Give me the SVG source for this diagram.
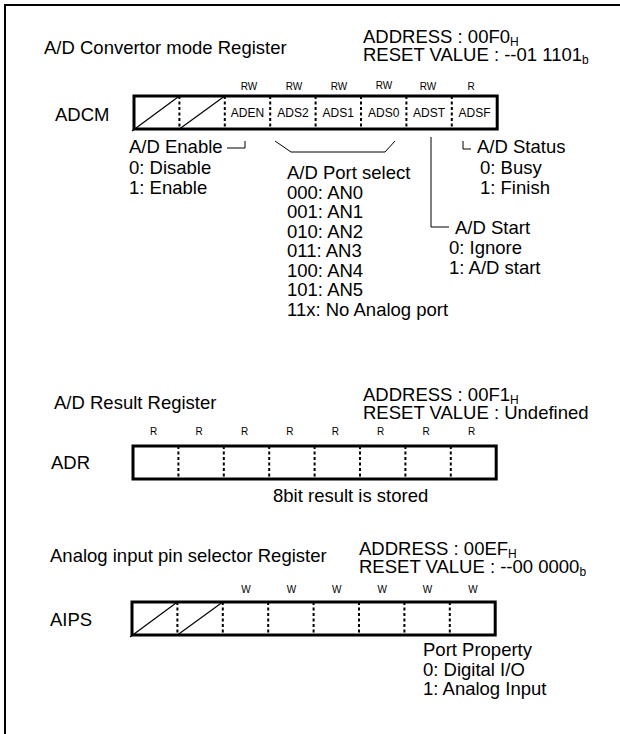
<svg xmlns="http://www.w3.org/2000/svg" width="620" height="734" viewBox="0 0 620 734">
<style>
text{font-family:"Liberation Sans",Arial,sans-serif;fill:#000}
.m{font-size:18.5px}
.s{font-size:12px}
.a{font-size:10px;text-anchor:middle}
.c{font-size:12px;text-anchor:middle}
.box{fill:#fff;stroke:#000;stroke-width:3}
.dv{stroke:#000;stroke-width:2;stroke-dasharray:3 2.5}
.dg{stroke:#000;stroke-width:1.2}
.ln{fill:none;stroke:#000;stroke-width:1}
</style>
<rect x="5" y="5" width="700" height="800" fill="#fff" stroke="#000" stroke-width="2"/>

<g id="adcm">
<text class="m" x="44" y="54">A/D Convertor mode Register</text>
<text class="m" x="363" y="43">ADDRESS : 00F0<tspan class="s" dy="3">H</tspan></text>
<text class="m" x="363" y="61">RESET VALUE : --01 1101<tspan class="s" dy="3">b</tspan></text>
<text class="m" x="55" y="120.5">ADCM</text>
<text class="a" x="249" y="90">RW</text>
<text class="a" x="294" y="90">RW</text>
<text class="a" x="339" y="90">RW</text>
<text class="a" x="384" y="89">RW</text>
<text class="a" x="428" y="90">RW</text>
<text class="a" x="471" y="90">R</text>
<rect class="box" x="134" y="96" width="363.2" height="33"/>
<line class="dg" x1="132" y1="131" x2="179.4" y2="96"/>
<line class="dg" x1="179.4" y1="129" x2="224.8" y2="96"/>
<line class="dv" x1="179.4" y1="96" x2="179.4" y2="129"/>
<line class="dv" x1="224.8" y1="96" x2="224.8" y2="129"/>
<line class="dv" x1="270.2" y1="96" x2="270.2" y2="129"/>
<line class="dv" x1="315.6" y1="96" x2="315.6" y2="129"/>
<line class="dv" x1="361" y1="96" x2="361" y2="129"/>
<line class="dv" x1="406.4" y1="96" x2="406.4" y2="129"/>
<line class="dv" x1="451.8" y1="96" x2="451.8" y2="129"/>
<text class="c" x="247.5" y="116.5">ADEN</text>
<text class="c" x="292.9" y="116.5">ADS2</text>
<text class="c" x="338.3" y="116.5">ADS1</text>
<text class="c" x="383.7" y="116.5">ADS0</text>
<text class="c" x="429.1" y="116.5">ADST</text>
<text class="c" x="474.5" y="116.5">ADSF</text>
<text class="m" x="129" y="153">A/D Enable</text>
<text class="m" x="129" y="173.5">0: Disable</text>
<text class="m" x="129" y="194">1: Enable</text>
<text class="m" x="287" y="179">A/D Port select</text>
<text class="m" x="287" y="198.5">000: AN0</text>
<text class="m" x="287" y="218">001: AN1</text>
<text class="m" x="287" y="237.5">010: AN2</text>
<text class="m" x="287" y="257">011: AN3</text>
<text class="m" x="287" y="276.5">100: AN4</text>
<text class="m" x="287" y="296">101: AN5</text>
<text class="m" x="287" y="315.5">11x: No Analog port</text>
<text class="m" x="477" y="153">A/D Status</text>
<text class="m" x="480" y="173.5">0: Busy</text>
<text class="m" x="480" y="194">1: Finish</text>
<text class="m" x="455" y="234">A/D Start</text>
<text class="m" x="449" y="254">0: Ignore</text>
<text class="m" x="449" y="274">1: A/D start</text>
</g>

<g id="connectors">
<path class="ln" d="M227,148 H245 V141"/>
<path class="ln" d="M275,141 L291,152 L385,152 L395,141"/>
<path class="ln" d="M431,137 V227 H449"/>
<path class="ln" d="M463,141 V149 H471"/>
</g>

<g id="adr">
<text class="m" x="54" y="409">A/D Result Register</text>
<text class="m" x="363" y="401">ADDRESS : 00F1<tspan class="s" dy="3">H</tspan></text>
<text class="m" x="363" y="419">RESET VALUE : Undefined</text>
<text class="a" x="153.7" y="435">R</text>
<text class="a" x="199.1" y="435">R</text>
<text class="a" x="244.5" y="435">R</text>
<text class="a" x="289.9" y="435">R</text>
<text class="a" x="335.3" y="435">R</text>
<text class="a" x="380.7" y="435">R</text>
<text class="a" x="426.1" y="435">R</text>
<text class="a" x="471.5" y="435">R</text>
<rect class="box" x="133" y="446" width="363.2" height="33"/>
<line class="dv" x1="178.4" y1="446" x2="178.4" y2="479"/>
<line class="dv" x1="223.8" y1="446" x2="223.8" y2="479"/>
<line class="dv" x1="269.2" y1="446" x2="269.2" y2="479"/>
<line class="dv" x1="314.6" y1="446" x2="314.6" y2="479"/>
<line class="dv" x1="360" y1="446" x2="360" y2="479"/>
<line class="dv" x1="405.4" y1="446" x2="405.4" y2="479"/>
<line class="dv" x1="450.8" y1="446" x2="450.8" y2="479"/>
<text class="m" x="51" y="469">ADR</text>
<text class="m" x="273" y="502">8bit result is stored</text>
</g>

<g id="aips">
<text class="m" x="50" y="562">Analog input pin selector Register</text>
<text class="m" x="359" y="555">ADDRESS : 00EF<tspan class="s" dy="3">H</tspan></text>
<text class="m" x="359" y="573">RESET VALUE : --00 0000<tspan class="s" dy="3">b</tspan></text>
<text class="a" x="246" y="593">W</text>
<text class="a" x="291.4" y="593">W</text>
<text class="a" x="336.8" y="593">W</text>
<text class="a" x="382.2" y="593">W</text>
<text class="a" x="427.6" y="593">W</text>
<text class="a" x="473" y="593">W</text>
<rect class="box" x="132" y="602" width="363.2" height="33"/>
<line class="dg" x1="130" y1="637" x2="177.4" y2="602"/>
<line class="dg" x1="177.4" y1="635" x2="222.8" y2="602"/>
<line class="dv" x1="177.4" y1="602" x2="177.4" y2="635"/>
<line class="dv" x1="222.8" y1="602" x2="222.8" y2="635"/>
<line class="dv" x1="268.2" y1="602" x2="268.2" y2="635"/>
<line class="dv" x1="313.6" y1="602" x2="313.6" y2="635"/>
<line class="dv" x1="359" y1="602" x2="359" y2="635"/>
<line class="dv" x1="404.4" y1="602" x2="404.4" y2="635"/>
<line class="dv" x1="449.8" y1="602" x2="449.8" y2="635"/>
<text class="m" x="50" y="626">AIPS</text>
<text class="m" x="423" y="656">Port Property</text>
<text class="m" x="423" y="675.5">0: Digital I/O</text>
<text class="m" x="423" y="695">1: Analog Input</text>
</g>
</svg>
